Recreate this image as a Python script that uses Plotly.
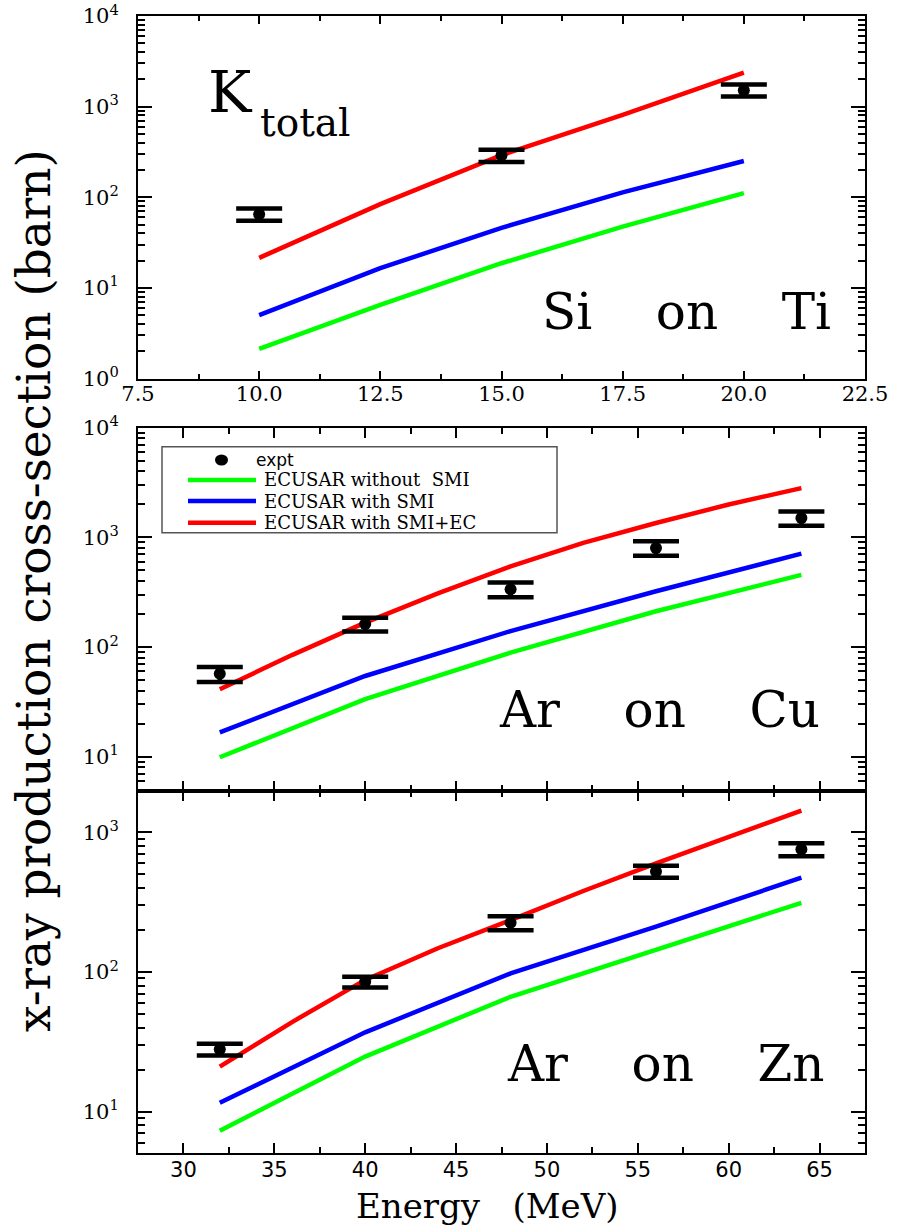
import plotly.graph_objects as go

W, H = 898, 1228

# ---- Si on Ti (K total) ----
e_si = [10.0, 12.5, 15.0, 17.5, 20.0]
si_without_smi = [2.12, 6.5, 18.7, 47.4, 111]
si_with_smi = [5.0, 16.5, 46, 113, 251]
si_with_smi_ec = [21.4, 84, 292, 809, 2372]
e_si_expt = [10.0, 15.0, 20.0]
si_expt = [65, 290, 1520]
si_expt_err = [10, 45, 230]

# ---- Ar on Cu ----
e_ar = [32, 40, 48, 56, 64]
e_ar_fine = [32, 36, 40, 44, 48, 52, 56, 60, 64]
cu_without_smi = [9.9, 33.5, 89, 212, 455]
cu_with_smi = [16.7, 54.5, 140, 323, 711]
cu_with_smi_ec = [41.2, 85, 167, 309, 545, 890, 1352, 1995, 2813]
cu_expt = [57, 162, 336, 800, 1500]
cu_expt_err = [9, 23, 52, 120, 225]

# ---- Ar on Zn ----
zn_without_smi = [7.3, 24.8, 66.5, 144, 313]
zn_with_smi = [11.6, 37, 97.7, 211, 473]
zn_with_smi_ec = [21, 44, 87.8, 148, 235, 380, 600, 933, 1429]
zn_expt = [28, 85, 225, 525, 755]
zn_expt_err = [2.7, 7.5, 26, 52, 80]

series_names = ["ECUSAR without  SMI", "ECUSAR with SMI", "ECUSAR with SMI+EC"]
series_colors = ["#00ff00", "#0000ff", "#ff0000"]

SERIF = "DejaVu Serif, serif"
SANS = "DejaVu Sans, sans-serif"


def px(p):
    return p / W


def py(p):
    return 1 - p / H


panels = [
    ("x", "y", [e_si, e_si, e_si], [si_without_smi, si_with_smi, si_with_smi_ec],
     e_si_expt, si_expt, si_expt_err),
    ("x2", "y2", [e_ar, e_ar, e_ar_fine], [cu_without_smi, cu_with_smi, cu_with_smi_ec],
     e_ar, cu_expt, cu_expt_err),
    ("x3", "y3", [e_ar, e_ar, e_ar_fine], [zn_without_smi, zn_with_smi, zn_with_smi_ec],
     e_ar, zn_expt, zn_expt_err),
]

fig = go.Figure()
for xa, ya, exs, curves, ee, ev, er in panels:
    for name, color, ex, vals in zip(series_names, series_colors, exs, curves):
        fig.add_trace(go.Scatter(
            x=ex, y=vals, mode="lines", name=name, showlegend=False,
            line=dict(color=color, width=4.5), xaxis=xa, yaxis=ya))
    fig.add_trace(go.Scatter(
        x=ee, y=ev, mode="markers", name="expt", showlegend=False,
        marker=dict(color="black", size=12, symbol="circle"),
        error_y=dict(type="data", array=er, visible=True, color="black",
                     thickness=4.5, width=23),
        xaxis=xa, yaxis=ya))

x_dom = [px(138), px(865)]
dom_top = [py(378.5), py(16)]
dom_mid = [py(791), py(427.7)]
dom_bot = [py(1153), py(791)]


def log_ticks(lo, hi):
    vals = [10 ** k for k in range(lo, hi + 1)]
    text = ["10<sup>%d</sup>" % k for k in range(lo, hi + 1)]
    return vals, text


def minor_vals(lo_dec, hi_dec):
    out = []
    for k in range(lo_dec, hi_dec):
        for m in range(2, 10):
            out.append(m * 10 ** k)
    return out


axis_common = dict(
    showline=True, linewidth=2, linecolor="black", mirror="ticks",
    ticks="inside", tickcolor="black", tickwidth=2,
    showgrid=False, zeroline=False, automargin=False,
    ticklabeloverflow="allow",
)
ytick_font = dict(family=SERIF, size=21, color="black")
minor_y = dict(ticks="inside", tickmode="array", ticklen=7, tickwidth=1.5, tickcolor="black")

tv_top, tt_top = log_ticks(0, 4)
tv_mid, tt_mid = log_ticks(1, 4)
tv_bot, tt_bot = log_ticks(1, 3)

fig.update_layout(
    width=W, height=H,
    margin=dict(l=0, r=0, t=0, b=0),
    paper_bgcolor="white", plot_bgcolor="white",
    showlegend=False,
    xaxis=dict(
        domain=x_dom, anchor="y", range=[7.5, 22.5], tick0=7.5, dtick=2.5,
        tickformat=".1f", ticklen=8,
        minor=dict(ticks="inside", dtick=1.25, tick0=7.5, ticklen=5, tickwidth=1.5, tickcolor="black"),
        tickfont=dict(family=SERIF, size=21, color="black"), ticklabelstandoff=-5,
        **axis_common),
    yaxis=dict(
        domain=dom_top, anchor="x", type="log", range=[0, 4],
        tickmode="array", tickvals=tv_top, ticktext=tt_top, ticklen=14,
        minor=dict(tickvals=minor_vals(0, 4), **minor_y),
        tickfont=ytick_font, ticklabelstandoff=13,
        **axis_common),
    xaxis2=dict(
        domain=x_dom, anchor="y2", range=[27.5, 67.5], tick0=0, dtick=5,
        showticklabels=False, ticklen=10,
        minor=dict(ticks="inside", dtick=2.5, tick0=0, ticklen=6, tickwidth=1.5, tickcolor="black"),
        **axis_common),
    yaxis2=dict(
        domain=dom_mid, anchor="x2", type="log", range=[0.688, 4],
        tickmode="array", tickvals=tv_mid, ticktext=tt_mid, ticklen=14,
        minor=dict(tickvals=minor_vals(0, 4)[3:], **minor_y),
        tickfont=ytick_font, ticklabelstandoff=13,
        **axis_common),
    xaxis3=dict(
        domain=x_dom, anchor="y3", range=[27.5, 67.5], tick0=0, dtick=5,
        ticklen=10,
        minor=dict(ticks="inside", dtick=2.5, tick0=0, ticklen=6, tickwidth=1.5, tickcolor="black"),
        tickfont=dict(family=SANS, size=21, color="black"),
        ticklabelstandoff=-3,
        **axis_common),
    yaxis3=dict(
        domain=dom_bot, anchor="x3", type="log", range=[0.7044, 3.2956],
        tickmode="array", tickvals=tv_bot, ticktext=tt_bot, ticklen=14,
        minor=dict(tickvals=minor_vals(0, 4)[4:], **minor_y),
        tickfont=ytick_font, ticklabelstandoff=13,
        **axis_common),
)

annotations = []


def label(text, x, y, size, family=SERIF, xanchor="center", yanchor="middle", angle=0):
    annotations.append(dict(
        text=text, x=px(x), y=py(y), xref="paper", yref="paper",
        xanchor=xanchor, yanchor=yanchor, showarrow=False, textangle=angle,
        font=dict(family=family, size=size, color="black")))


# axis titles
label("x-ray production cross-section (barn)", 33, 591, 47, angle=-90)
label("Energy   (MeV)", 487, 1206, 34)

# panel captions
label("K", 206, 92, 58, xanchor="left")
label("total", 258, 122, 39, xanchor="left")
label("Si    on    Ti", 686, 312, 50)
label("Ar    on    Cu", 659, 710, 50)
label("Ar    on    Zn", 665, 1064, 50)

# legend box
shapes = [dict(type="rect", xref="paper", yref="paper",
               x0=px(162), x1=px(557), y0=py(532.7), y1=py(446.7),
               line=dict(color="#555555", width=1.5), fillcolor="white", layer="above")]
shapes.append(dict(type="circle", xref="paper", yref="paper",
                   x0=px(221.5 - 6.5), x1=px(221.5 + 6.5), y0=py(460 + 5.5), y1=py(460 - 5.5),
                   fillcolor="black", line=dict(color="black", width=0), layer="above"))
label("expt", 254, 460, 17, family=SANS, xanchor="left")
for name, color, yy in zip(series_names, series_colors, [480, 501, 522.7]):
    shapes.append(dict(type="line", xref="paper", yref="paper",
                       x0=px(188), x1=px(256), y0=py(yy), y1=py(yy),
                       line=dict(color=color, width=4.5), layer="above"))
    label(name, 262, yy, 18, xanchor="left")

fig.update_layout(annotations=annotations, shapes=shapes)

fig.write_html("out.html")
